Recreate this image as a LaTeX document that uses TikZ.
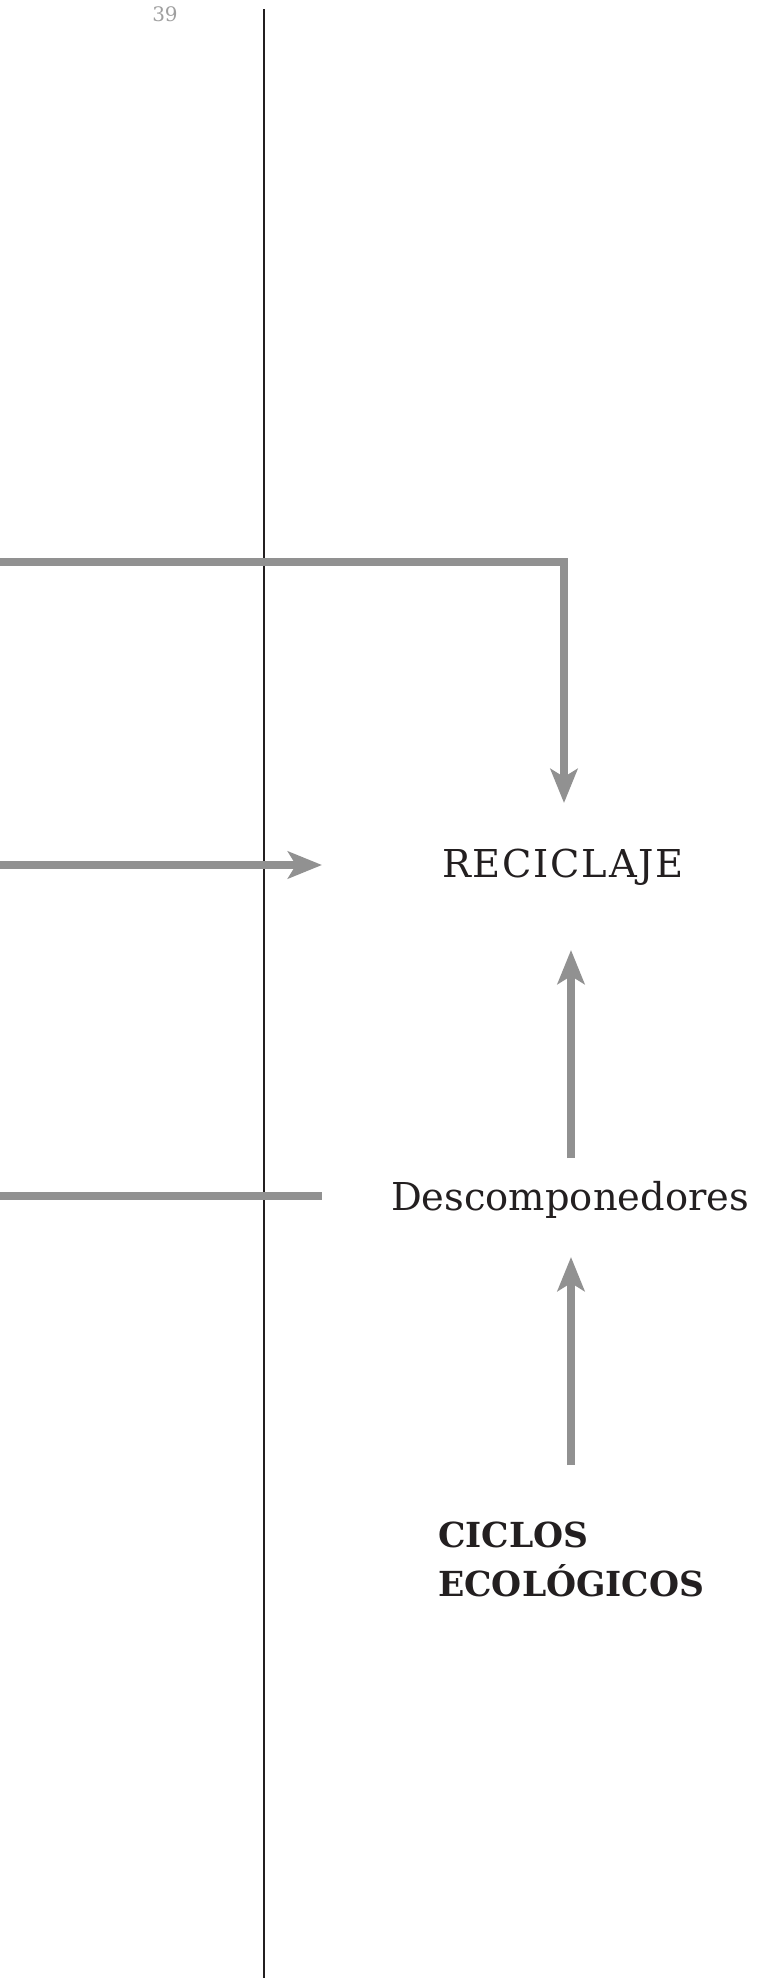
\documentclass[tikz,border=0pt]{standalone}
\usepackage{fontspec}
\setmainfont{DejaVu Serif}
\newfontfamily\spacedserif[LetterSpace=4.5]{DejaVu Serif}
\usetikzlibrary{arrows.meta}
\definecolor{flowgray}{RGB}{145,145,145}
\definecolor{rulecolor}{RGB}{35,31,32}
\tikzstyle{term} = [inner sep=0pt, text=rulecolor, font=\fontsize{38.4}{46}\selectfont]
\tikzstyle{flowline} = [line width=8pt, draw=flowgray]
\tikzstyle{flowarrow} = [flowline, -{Stealth[length=34pt, width=27pt, inset=8pt]}]

\begin{document}
\begin{tikzpicture}[x=1pt, y=-1pt]
    \useasboundingbox (0,0) rectangle (762,1978);

    \node (pagenum) [inner sep=0pt, text=gray!75, font=\fontsize{20}{22}\selectfont] at (165,14) {39};
    \draw [rulecolor, line width=2pt] (264,9) -- (264,1978);

    \node (reciclaje) [term, anchor=base, font=\fontsize{38.4}{46}\selectfont\spacedserif] at (563,877) {RECICLAJE};
    \node (descomp) [term, anchor=base] at (570,1210) {Descomponedores};
    \node (ciclos) [inner sep=0pt, text=rulecolor, anchor=west, align=left, font=\fontsize{34.5}{49}\selectfont\bfseries] at (438,1559.5) {CICLOS\\ECOLÓGICOS};

    % free ends of the connectors
    \coordinate (topstart) at (0,562);
    \coordinate (topend) at (564,803);
    \coordinate (midstart) at (0,865);
    \coordinate (midend) at (322,865);
    \coordinate (lowstart) at (0,1196);
    \coordinate (lowend) at (322,1196);
    \coordinate (upone) at (571,1158);
    \coordinate (uponetip) at (571,950);
    \coordinate (uptwo) at (571,1465);
    \coordinate (uptwotip) at (571,1257);

    \draw [flowarrow] (topstart) -| (topend);
    \draw [flowarrow] (midstart) -- (midend);
    \draw [flowline] (lowstart) -- (lowend);
    \draw [flowarrow] (upone) -- (uponetip);
    \draw [flowarrow] (uptwo) -- (uptwotip);
  \end{tikzpicture}
\end{document}
